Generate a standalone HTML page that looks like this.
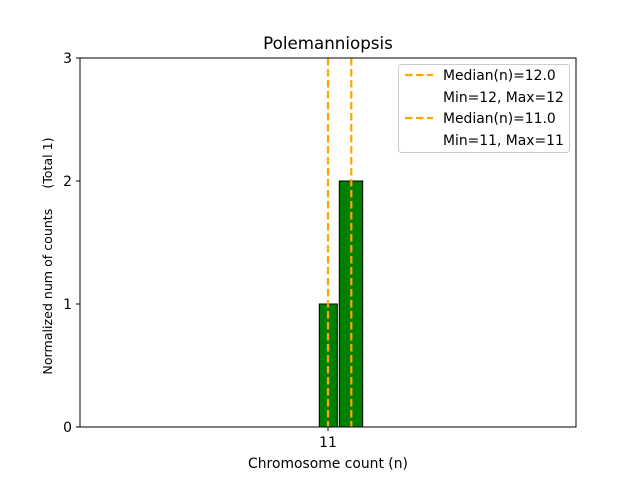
<!DOCTYPE html>
<html><head><style>body{margin:0;background:#fff}</style></head><body>
<svg width="640" height="480" xmlns="http://www.w3.org/2000/svg" font-family="DejaVu Sans, Liberation Sans, sans-serif">
<rect width="640" height="480" fill="#fff"/>
<rect x="319.3" y="304" width="18" height="123" fill="#008000" stroke="#000" stroke-width="1"/>
<rect x="339.3" y="181" width="23.4" height="246" fill="#008000" stroke="#000" stroke-width="1"/>
<line x1="80" y1="427" x2="430" y2="427" stroke="#000" stroke-width="1"/>
<line x1="328" y1="58" x2="328" y2="427" stroke="#FFA500" stroke-width="2.2" stroke-dasharray="7.5,3.5"/>
<line x1="351.3" y1="58" x2="351.3" y2="427" stroke="#FFA500" stroke-width="2.2" stroke-dasharray="7.5,3.5"/>
<rect x="80" y="58" width="496" height="369" fill="none" stroke="#000" stroke-width="1"/>
<g font-size="13.9" fill="#000">
<line x1="76" y1="427" x2="80" y2="427" stroke="#000"/><text x="72" y="432" text-anchor="end">0</text>
<line x1="76" y1="304" x2="80" y2="304" stroke="#000"/><text x="72" y="309" text-anchor="end">1</text>
<line x1="76" y1="181" x2="80" y2="181" stroke="#000"/><text x="72" y="186" text-anchor="end">2</text>
<line x1="76" y1="58" x2="80" y2="58" stroke="#000"/><text x="72" y="63" text-anchor="end">3</text>
<line x1="328" y1="427" x2="328" y2="431" stroke="#000"/><text x="328" y="447" text-anchor="middle">11</text>
<text x="328" y="468" text-anchor="middle">Chromosome count (n)</text>
<text transform="translate(52,256) rotate(-90)" text-anchor="middle" font-size="12.6" xml:space="preserve" style="white-space:pre">Normalized num of counts     (Total 1)</text>
<text x="328" y="49" text-anchor="middle" font-size="16.7">Polemanniopsis</text>
</g>
<rect x="398.5" y="64.5" width="171" height="88" rx="3" fill="#fff" fill-opacity="0.8" stroke="#ccc"/>
<g font-size="13.9" fill="#000">
<line x1="405" y1="75" x2="433" y2="75" stroke="#FFA500" stroke-width="2.2" stroke-dasharray="7.5,3.5"/>
<text x="443" y="80">Median(n)=12.0</text>
<text x="443" y="102">Min=12, Max=12</text>
<line x1="405" y1="118" x2="433" y2="118" stroke="#FFA500" stroke-width="2.2" stroke-dasharray="7.5,3.5"/>
<text x="443" y="123">Median(n)=11.0</text>
<text x="443" y="145">Min=11, Max=11</text>
</g>
</svg>
</body></html>
